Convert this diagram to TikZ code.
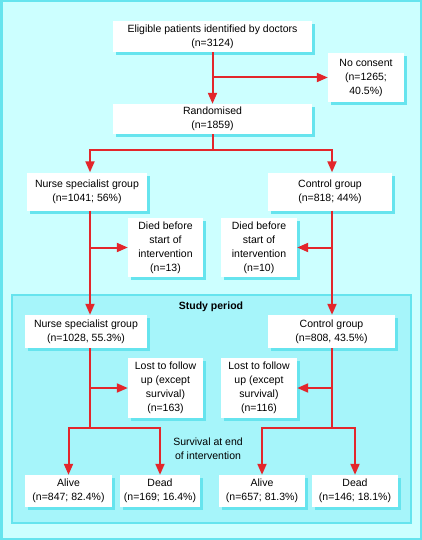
\documentclass[tikz,border=0pt]{standalone}
\usepackage{fontspec}
\setmainfont{Liberation Sans}
\usetikzlibrary{arrows.meta,shadows}
\definecolor{pagecyan}{HTML}{CCFFFF}
\definecolor{framecyan}{HTML}{66E4EE}
\definecolor{panelcyan}{HTML}{A6F5FA}
\definecolor{boxshade}{HTML}{66E4EE}
\definecolor{linkred}{HTML}{E3262B}

\begin{document}
\begin{tikzpicture}[x=1pt, y=-1pt,
font=\fontsize{10.5}{14}\selectfont,
box/.style={fill=white, align=center, inner sep=0pt,
    drop shadow={shadow xshift=3pt, shadow yshift=-3pt, fill=boxshade, opacity=1}},
link/.style={draw=linkred, line width=2pt},
arr/.style={link, -{Triangle[length=11pt, width=9pt]}}
]
    \useasboundingbox (0,0) rectangle (422,540);
    %Background
    \draw[fill=pagecyan, draw=framecyan, line width=2.5pt] (1.25,1.25) rectangle (420.75,538.75);
    \draw[fill=panelcyan, draw=framecyan, line width=1.5pt] (12,295) rectangle (411,523);

    %Nodes
    \node[box, minimum width=199pt, minimum height=31pt]
        (elig) at (212.5,36.5)   {Eligible patients identified by doctors\\(n=3124)};
    \node[box, minimum width=76pt, minimum height=49pt]
        (nocons) at (366,77.5)   {No consent\\(n=1265;\\40.5\%)};
    \node[box, minimum width=199pt, minimum height=30pt]
        (rand) at (212.5,119)    {Randomised\\(n=1859)};
    \node[box, minimum width=120pt, minimum height=38pt]
        (nurse1) at (87,191.5)   {Nurse specialist group\\(n=1041; 56\%)};
    \node[box, minimum width=124pt, minimum height=38pt]
        (ctrl1) at (330,191.5)   {Control group\\(n=818; 44\%)};
    \node[box, minimum width=75pt, minimum height=59pt]
        (died1) at (165.5,247.5) {Died before\\start of\\intervention\\(n=13)};
    \node[box, minimum width=76pt, minimum height=59pt]
        (died2) at (259,247.5)   {Died before\\start of\\intervention\\(n=10)};
    \node[font=\fontsize{10.5}{14}\selectfont\bfseries]
        (study) at (211,307)     {Study period};
    \node[box, minimum width=122pt, minimum height=33pt]
        (nurse2) at (86,331.5)   {Nurse specialist group\\(n=1028, 55.3\%)};
    \node[box, minimum width=127pt, minimum height=33pt]
        (ctrl2) at (331.5,331.5) {Control group\\(n=808, 43.5\%)};
    \node[box, minimum width=75pt, minimum height=60pt]
        (lost1) at (165.5,388)   {Lost to follow\\up (except\\survival)\\(n=163)};
    \node[box, minimum width=76pt, minimum height=60pt]
        (lost2) at (259,388)     {Lost to follow\\up (except\\survival)\\(n=116)};
    \node[align=center]
        (surv) at (208,448.5)    {Survival at end\\of intervention};
    \node[box, minimum width=87pt, minimum height=32pt]
        (alive1) at (68.5,491)   {Alive\\(n=847; 82.4\%)};
    \node[box, minimum width=80pt, minimum height=32pt]
        (dead1) at (160,491)     {Dead\\(n=169; 16.4\%)};
    \node[box, minimum width=86pt, minimum height=32pt]
        (alive2) at (262,491)    {Alive\\(n=657; 81.3\%)};
    \node[box, minimum width=86pt, minimum height=32pt]
        (dead2) at (355,491)     {Dead\\(n=146; 18.1\%)};

    \coordinate (split) at (212.5,150);
    \coordinate (lcol) at (90,150);
    \coordinate (rcol) at (332,150);
    \coordinate (lsplit) at (90,428);
    \coordinate (rsplit) at (332,428);

    %Lines
    \draw[arr] (elig) -- (rand);
    \draw[arr] (elig.south |- nocons.west) -- (nocons.west);
    \draw[link] (rand.south) -- (split);
    \draw[arr] (split) -- (lcol) -- (lcol |- nurse1.north);
    \draw[arr] (split) -- (rcol) -- (rcol |- ctrl1.north);
    \draw[arr] (lcol |- nurse1.south) -- (lcol |- nurse2.north);
    \draw[arr] (rcol |- ctrl1.south) -- (rcol |- ctrl2.north);
    \draw[arr] (lcol |- died1.west) -- (died1.west);
    \draw[arr] (rcol |- died2.east) -- (died2.east);
    \draw[link] (lcol |- nurse2.south) -- (lsplit);
    \draw[link] (rcol |- ctrl2.south) -- (rsplit);
    \draw[arr] (lcol |- lost1.west) -- (lost1.west);
    \draw[arr] (rcol |- lost2.east) -- (lost2.east);
    \draw[arr] (lsplit) -| (alive1.north);
    \draw[arr] (lsplit) -| (dead1.north);
    \draw[arr] (rsplit) -| (alive2.north);
    \draw[arr] (rsplit) -| (dead2.north);
\end{tikzpicture}
\end{document}
